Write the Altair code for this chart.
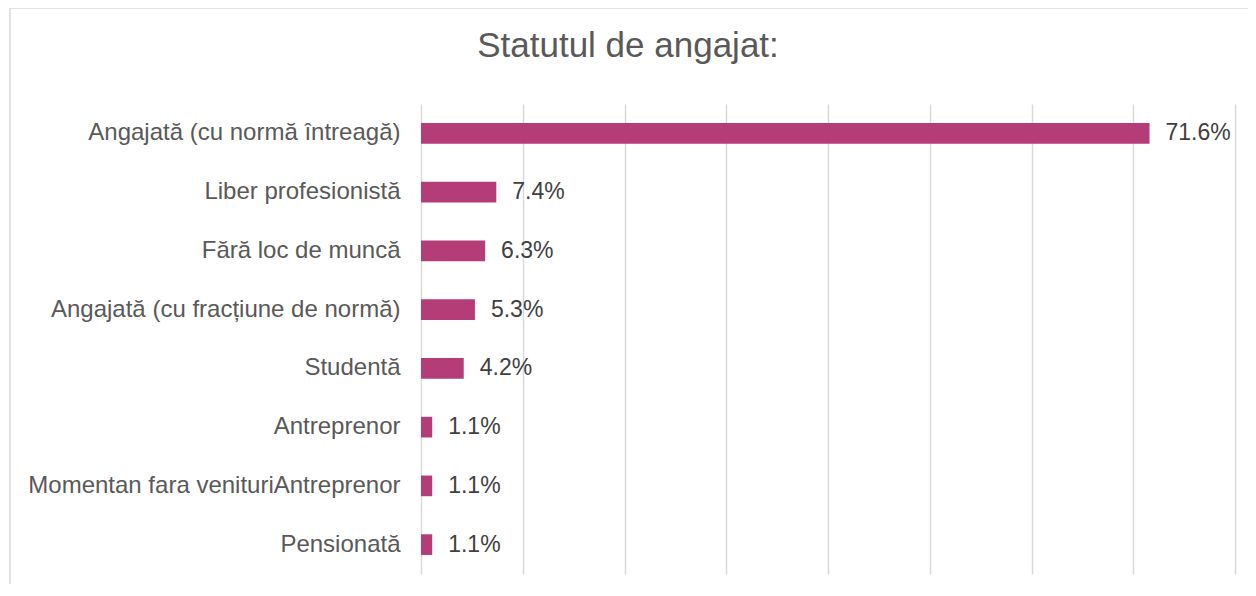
import altair as alt
import pandas as pd

categories = [
    "Angajată (cu normă întreagă)",
    "Liber profesionistă",
    "Fără loc de muncă",
    "Angajată (cu fracțiune de normă)",
    "Studentă",
    "Antreprenor",
    "Momentan fara venituriAntreprenor",
    "Pensionată",
]
values = [71.6, 7.4, 6.3, 5.3, 4.2, 1.1, 1.1, 1.1]
grid_values = [0, 10, 20, 30, 40, 50, 60, 70, 80]

df = pd.DataFrame({"cat": categories, "val": values})

FONT = "Liberation Sans"
W, H = 814, 470

y_enc = alt.Y(
    "cat:N",
    sort=categories,
    title=None,
    scale=alt.Scale(paddingInner=0.648, paddingOuter=0.324),
    axis=alt.Axis(
        domain=False,
        ticks=False,
        labelPadding=21,
        labelFontSize=24,
        labelFont=FONT,
        labelColor="#595959",
        labelLimit=500,
    ),
)
x_enc = alt.X(
    "val:Q",
    title=None,
    scale=alt.Scale(domain=[0, 80], nice=False),
    axis=alt.Axis(
        values=grid_values,
        labels=False,
        ticks=False,
        domain=False,
        grid=True,
        gridColor="#d9d9d9",
        gridWidth=1.5,
    ),
)

base = alt.Chart(df)
bars = base.mark_bar(color="#B43C77").encode(x=x_enc, y=y_enc)
labels = (
    base.transform_calculate(lbl="format(datum.val, '.1f') + '%'")
    .mark_text(align="left", baseline="middle", dx=16, fontSize=23, font=FONT, color="#404040")
    .encode(x="val:Q", y=alt.Y("cat:N", sort=categories), text="lbl:N")
)

one = alt.Chart(pd.DataFrame({"a": [0]}))
top_border = one.mark_rule(color="#d9d9d9", strokeWidth=1.5).encode(
    x=alt.value(-411), x2=alt.value(900), y=alt.value(-96)
)
left_border = one.mark_rule(color="#d9d9d9", strokeWidth=1.5).encode(
    x=alt.value(-411), y=alt.value(-96), y2=alt.value(600)
)

chart = (
    alt.layer(top_border, left_border, bars, labels)
    .properties(
        width=W,
        height=H,
        background="white",
        autosize=alt.AutoSizeParams(type="none"),
        padding={"left": 413, "top": 96, "right": 13, "bottom": 10},
        title=alt.TitleParams(
            "Statutul de angajat:",
            font=FONT,
            fontSize=35,
            fontWeight="normal",
            color="#595959",
            anchor="middle",
            frame="group",
            baseline="alphabetic",
            offset=-85,
            dx=-200,
        ),
    )
    .configure_view(strokeWidth=0, stroke="transparent")
)

chart.save("out.html", embed_options={"renderer": "svg", "actions": False})
